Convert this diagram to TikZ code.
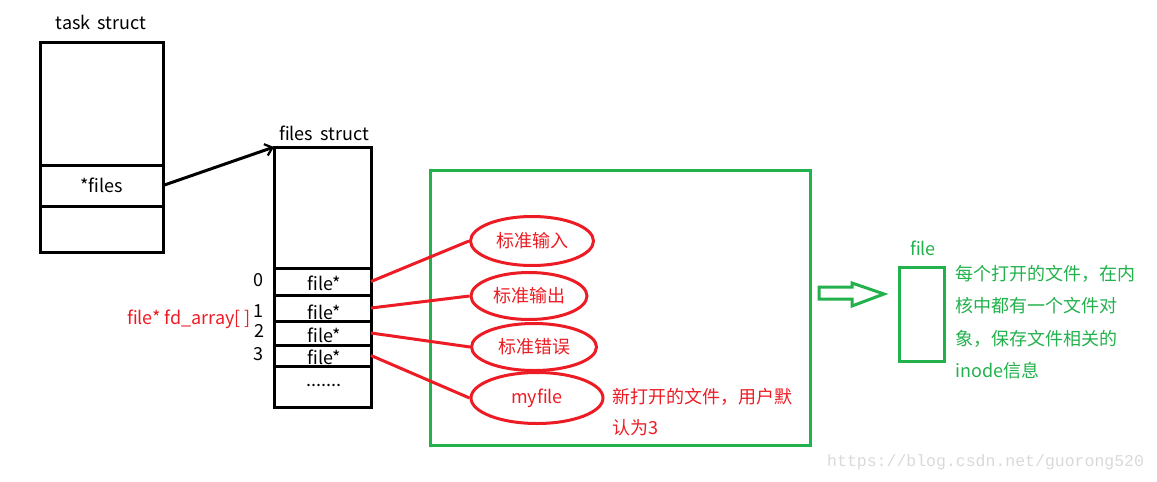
\documentclass[tikz,border=0pt]{standalone}
\usepackage{fontspec}
\setmainfont{Noto Sans CJK SC}
\newfontfamily\markfont{Liberation Mono}
\usetikzlibrary{arrows.meta,positioning,shapes.geometric}
\definecolor{PaintRed}{HTML}{ED1C24}
\definecolor{PaintGreen}{HTML}{22B14C}
\definecolor{MarkGray}{HTML}{D9D9D9}
\tikzset{
  cell/.style={draw=black,line width=3pt,inner sep=0pt,outer sep=0pt,anchor=north west},
  lbl/.style={inner sep=0pt,font=\fontsize{18}{21}\selectfont},
  redlbl/.style={lbl,text=PaintRed},
  greenlbl/.style={lbl,text=PaintGreen},
  fdoval/.style={ellipse,draw=PaintRed,line width=3pt,inner sep=0pt,text=PaintRed,font=\fontsize{18}{21}\selectfont},
  redline/.style={draw=PaintRed,line width=3pt},
  greenbox/.style={draw=PaintGreen,line width=3pt,inner sep=0pt,outer sep=0pt,anchor=north west},
  ptr/.style={-{Straight Barb[length=7pt,width=12pt,line width=2.2pt]},draw=black,line width=3pt}
}
\begin{document}
\begin{tikzpicture}[x=1pt,y=-1pt]
  \useasboundingbox (0,0) rectangle (1157,482);
  % task struct
  \node[lbl] (taskname) at (101,22) {task\, struct};
  \node[cell,minimum width=123pt,minimum height=123pt] (tsTop) at (40,42) {};
  \node[cell,minimum width=123pt,minimum height=41pt] (tsFiles) at (40,165) {};
  \node[cell,minimum width=123pt,minimum height=46pt] (tsBot) at (40,206) {};
  \node[lbl] at (tsFiles.center) {*files};
  % files struct
  \node[lbl] (filesname) at (324,133) {files\, struct};
  \node[cell,minimum width=97pt,minimum height=121pt] (fsTop) at (274,147) {};
  \node[cell,minimum width=97pt,minimum height=27pt] (fd0) at (274,268) {};
  \node[cell,minimum width=97pt,minimum height=26pt] (fd1) at (274,295) {};
  \node[cell,minimum width=97pt,minimum height=24pt] (fd2) at (274,321) {};
  \node[cell,minimum width=97pt,minimum height=21pt] (fd3) at (274,345) {};
  \node[cell,minimum width=97pt,minimum height=41pt] (fdRest) at (274,366) {};
  \foreach \i/\y in {0/283,1/312,2/335,3/357}
    \node[lbl] at (324,\y) {file*};
  \node[lbl] at (324,385) {.......};
  \node[lbl] (idx0) at (258,280) {0};
  \node[lbl] (idx1) at (258,311) {1};
  \node[lbl] (idx2) at (259,331) {2};
  \node[lbl] (idx3) at (258,354) {3};
  \node[redlbl] (fdarray) at (189,319) {file* fd\_array[ ]};
  \draw[ptr] (tsFiles.east) -- (fsTop.north west);
  % open files
  \node[greenbox,minimum width=380pt,minimum height=275pt] (kernel) at (430,170) {};
  \node[fdoval,minimum width=123pt,minimum height=49pt] (stdin) at (532,241) {标准输入};
  \node[fdoval,minimum width=116pt,minimum height=47pt] (stdout) at (529,296) {标准输出};
  \node[fdoval,minimum width=125pt,minimum height=47pt] (stderr) at (534,347) {标准错误};
  \node[fdoval,minimum width=132pt,minimum height=51pt] (myfile) at (537,398) {myfile};
  \draw[redline] (fd0.east) -- (stdin.west);
  \draw[redline] (fd1.east) -- (stdout.west);
  \draw[redline] (fd2.east) -- (stderr.west);
  \draw[redline] (fd3.east) -- (myfile.west);
  \node[redlbl,anchor=west] (newnote1) at (612,397) {新打开的文件，用户默};
  \node[redlbl,anchor=west] (newnote2) at (612,428) {认为3};
  % file object
  \draw[PaintGreen,line width=3pt] (819,287) -- (852,287) -- (852,283) -- (884,294)
    -- (852,306) -- (852,299) -- (819,299) -- cycle;
  \node[greenlbl] (filename) at (923,248) {file};
  \node[greenbox,minimum width=45pt,minimum height=94pt] (fileobj) at (899,267) {};
  \node[greenlbl,anchor=west] (note1) at (955,274) {每个打开的文件，在内};
  \node[greenlbl,anchor=west] (note2) at (955,306) {核中都有一个文件对};
  \node[greenlbl,anchor=west] (note3) at (955,339) {象，保存文件相关的};
  \node[greenlbl,anchor=west] (note4) at (955,371) {inode信息};
  \node[inner sep=0pt,text=MarkGray,font=\markfont\fontsize{16.5}{18}\selectfont,anchor=west] (mark) at (827,462) {https://blog.csdn.net/guorong520};
\end{tikzpicture}
\end{document}
